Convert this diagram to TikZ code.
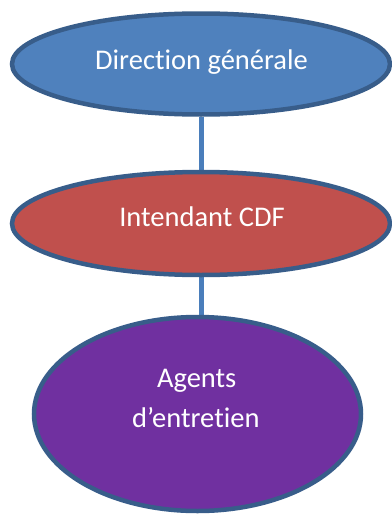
\documentclass[tikz,border=0pt]{standalone}
\usepackage{fontspec}
\setmainfont{Carlito}[Ligatures={NoCommon}]
\usetikzlibrary{shapes.geometric,backgrounds}
\definecolor{fillblue}{HTML}{4F81BD}
\definecolor{fillred}{HTML}{C0504D}
\definecolor{fillpurple}{HTML}{7030A0}
\definecolor{borderblue}{HTML}{385D8A}
\definecolor{lineblue}{HTML}{4A7EBB}
\tikzset{
  oval/.style={ellipse, draw=borderblue, line width=4.5pt, inner sep=0pt},
  lbl/.style={text=white, font=\fontsize{28.5}{34}\selectfont, anchor=base, inner sep=0pt},
  conn/.style={draw=lineblue, line width=5pt}
}
\begin{document}
\begin{tikzpicture}[x=1pt,y=-1pt]
\useasboundingbox (0,0) rectangle (391,514);
\node[oval, fill=fillblue, minimum width=378pt, minimum height=101pt] (e1) at (201,64) {};
\node[oval, fill=fillred, minimum width=378pt, minimum height=103pt] (e2) at (201,223.5) {};
\node[oval, fill=fillpurple, minimum width=327pt, minimum height=194pt] (e3) at (197.5,414) {};
\node[lbl] (t1) at (201.5,69) {Direction générale};
\node[lbl] (t2) at (202,226.7) {Intendant CDF};
\node[lbl] (t3a) at (196.7,387.3) {Agents};
\node[lbl] (t3b) at (195.8,427.3) {d’entretien};
\begin{scope}[on background layer]
\fill[white] (0,0) rectangle (391,514);
\draw[conn] (e1.south) -- (e2.north);
\draw[conn] (e2.south) -- (e2.south |- e3.north);
\end{scope}
\end{tikzpicture}
\end{document}
